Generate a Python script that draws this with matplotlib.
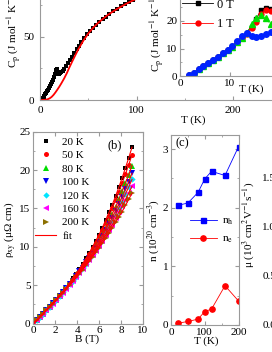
import matplotlib
matplotlib.use("Agg")
import matplotlib.pyplot as plt
from matplotlib.ticker import MultipleLocator

plt.rcParams["font.family"] = ["Liberation Serif", "DejaVu Serif"]
plt.rcParams["mathtext.fontset"] = "stix"
plt.rcParams["font.size"] = 8

GRAY = "#9a9a9a"
W, H = 272, 352

# (a) main: specific heat, zero field
T_inset = [1.8, 2.7, 3.7, 4.6, 5.6, 6.6, 7.5, 8.5, 9.5, 10.4, 11.4, 12.3, 13.3,
           14.3, 15.2, 16.2, 17.1, 18.1, 19.0, 20.0]
C_0T = [0.4, 1.2, 2.4, 3.5, 4.6, 5.8, 7.0, 8.2, 9.4, 10.8, 12.4, 13.9, 15.8,
        18.0, 20.6, 24.0, 24.8, 24.4, 21.3, 20.8]
C_1T = [0.4, 1.2, 2.4, 3.5, 4.6, 5.8, 7.0, 8.2, 9.4, 10.7, 12.3, 13.7, 15.4,
        17.4, 19.8, 22.6, 23.9, 23.6, 22.0, 20.6]
C_2T = [0.4, 1.2, 2.4, 3.5, 4.6, 5.8, 7.0, 8.2, 9.4, 10.7, 12.2, 13.9, 15.8,
        18.8, 21.0, 22.3, 21.2, 18.8, 18.3, 18.6]
C_3T = [0.4, 1.2, 2.4, 3.5, 4.6, 5.8, 7.0, 8.2, 9.4, 10.8, 12.7, 14.7, 15.6,
        14.6, 14.2, 14.5, 15.4, 16.0, 16.6, 17.2]

T_high = [21, 22, 23.5, 25, 27, 29, 31, 33, 35.5, 38, 40.5, 43, 46, 49, 52, 55,
          58, 61.5, 65, 68.5, 72, 76, 80, 84, 88, 92, 96, 100, 105, 110]
C_high = [21.2, 21.8, 22.9, 24.2, 26.5, 29.0, 31.5, 34.0, 37.0, 40.0, 42.8, 45.6,
          48.8, 52.0, 54.6, 57.0, 59.2, 61.6, 63.8, 65.9, 68.0, 70.2, 72.2, 74.0,
          75.8, 77.4, 79.0, 80.4, 82.0, 83.5]

T_fit = [0, 5, 8, 10, 12, 14, 16, 18, 20, 22, 25, 28, 30, 33, 36, 40, 45, 50, 55,
         60, 65, 70, 75, 80, 90, 100, 110, 120]
C_fit = [0, 0.1, 0.6, 1.3, 2.4, 4.0, 6.0, 8.2, 10.5, 13.0, 17.0, 21.5, 25.0, 29.8,
         34.5, 40.5, 47.0, 52.5, 57.0, 60.8, 64.0, 67.0, 69.6, 72.0, 76.3, 80.0,
         83.0, 85.5]

# (b) Hall resistivity
B = [0, 0.3, 0.6, 0.9, 1.2, 1.5, 1.8, 2.1, 2.4, 2.7, 3.0, 3.3, 3.6, 3.9, 4.2, 4.5,
     4.8, 5.1, 5.4, 5.7, 6.0, 6.3, 6.6, 6.9, 7.2, 7.5, 7.8, 8.1, 8.4, 8.7, 9.0]
rho_20 = [0, 0.4, 0.9, 1.3, 1.8, 2.2, 2.7, 3.2, 3.7, 4.2, 4.7, 5.3, 5.9, 6.5, 7.1,
          7.8, 8.5, 9.2, 10.0, 10.8, 11.6, 12.5, 13.5, 14.5, 15.5, 16.6, 17.8,
          19.0, 20.3, 21.6, 23.0]
rho_50 = [0, 0.4, 0.9, 1.3, 1.8, 2.2, 2.7, 3.2, 3.7, 4.2, 4.7, 5.2, 5.8, 6.4, 7.0,
          7.6, 8.3, 9.0, 9.8, 10.5, 11.4, 12.2, 13.1, 14.0, 15.0, 16.1, 17.1,
          18.3, 19.5, 20.7, 22.0]
rho_80 = [0, 0.4, 0.9, 1.3, 1.8, 2.2, 2.7, 3.1, 3.6, 4.1, 4.6, 5.2, 5.7, 6.3, 6.9,
          7.5, 8.1, 8.8, 9.5, 10.2, 10.9, 11.7, 12.5, 13.4, 14.3, 15.2, 16.2,
          17.3, 18.3, 19.4, 20.6]
rho_100 = [0, 0.4, 0.9, 1.3, 1.8, 2.2, 2.7, 3.1, 3.6, 4.1, 4.6, 5.1, 5.6, 6.2, 6.8,
           7.3, 8.0, 8.6, 9.2, 9.9, 10.6, 11.4, 12.2, 13.0, 13.8, 14.7, 15.6,
           16.5, 17.5, 18.5, 19.6]
rho_120 = [0, 0.4, 0.9, 1.3, 1.8, 2.2, 2.7, 3.1, 3.6, 4.1, 4.6, 5.1, 5.6, 6.1, 6.7,
           7.2, 7.8, 8.4, 9.1, 9.7, 10.4, 11.1, 11.8, 12.6, 13.4, 14.2, 15.1,
           15.9, 16.9, 17.8, 18.8]
rho_160 = [0, 0.4, 0.9, 1.3, 1.8, 2.2, 2.6, 3.1, 3.6, 4.0, 4.5, 5.0, 5.5, 6.0, 6.6,
           7.1, 7.7, 8.3, 8.9, 9.5, 10.1, 10.8, 11.5, 12.2, 12.9, 13.7, 14.5,
           15.3, 16.1, 17.0, 17.9]
rho_200 = [0, 0.4, 0.9, 1.3, 1.7, 2.2, 2.6, 3.1, 3.6, 4.0, 4.5, 5.0, 5.5, 6.0, 6.5,
           7.0, 7.6, 8.1, 8.7, 9.3, 9.9, 10.5, 11.1, 11.8, 12.5, 13.2, 13.9,
           14.6, 15.4, 16.2, 17.0]
labels_b = ["20 K", "50 K", "80 K", "100 K", "120 K", "160 K", "200 K"]

# (c) carrier densities
T_c = [20, 50, 80, 100, 120, 160, 200]
n_h = [2.04, 2.08, 2.26, 2.49, 2.62, 2.55, 3.04]
n_e = [0.03, 0.06, 0.10, 0.23, 0.27, 0.67, 0.41]


def box(x0, y0, x1, y1):
    return [x0 / W, 1 - y1 / H, (x1 - x0) / W, (y1 - y0) / H]


def style(ax, pad=2):
    for s in ax.spines.values():
        s.set_color(GRAY)
        s.set_linewidth(0.8)
    ax.tick_params(which="both", direction="in", color=GRAY, top=True,
                   right=True, pad=pad, labelsize=8)
    ax.tick_params(which="major", length=3)
    ax.tick_params(which="minor", length=1.5)


def ftext(x, y, s, **kw):
    fig.text(x / W, 1 - y / H, s, **kw)


fig = plt.figure(figsize=(W / 100, H / 100), dpi=100)

# ---- (a) main
ax_a = fig.add_axes(box(40, 100 - 115 * 1.266, 40 + 320 * 0.965, 100))
ax_a.plot(T_inset + T_high, C_0T + C_high, "s", color="black", ms=3, mew=0)
ax_a.plot(T_fit, C_fit, "-", color="red", lw=1.3)
ax_a.set_xlim(0, 320)
ax_a.set_ylim(0, 115)
ax_a.xaxis.set_major_locator(MultipleLocator(100))
ax_a.xaxis.set_minor_locator(MultipleLocator(50))
ax_a.yaxis.set_major_locator(MultipleLocator(50))
ax_a.yaxis.set_minor_locator(MultipleLocator(25))
style(ax_a, pad=4)
ftext(193, 120, "T (K)", ha="center", va="center")
ftext(14, 68, r"C$_{\rm p}$ (J mol$^{-1}$ K$^{-1}$)", rotation=90,
      ha="center", va="bottom")

# ---- (a) inset
ax_in = fig.add_axes(box(180, 76 - 82.5, 180 + 145, 76))
ax_in.plot(T_inset, C_0T, "-s", color="black", ms=3.2, lw=0.6, label="0 T")
ax_in.plot(T_inset, C_1T, "-o", color="red", ms=3.5, lw=0.6, label="1 T")
ax_in.plot(T_inset, C_2T, ":^", color="#00dd00", ms=3.8, lw=0.6)
ax_in.plot(T_inset, C_3T, ":o", color="#0022ff", ms=4, lw=0.6)
ax_in.set_xlim(0, 29)
ax_in.set_ylim(0, 30)
ax_in.xaxis.set_major_locator(MultipleLocator(10))
ax_in.yaxis.set_major_locator(MultipleLocator(10))
ax_in.yaxis.set_minor_locator(MultipleLocator(5))
style(ax_in, pad=2)
ax_in.legend(loc="lower left", bbox_to_anchor=(182 / W, 1 - 30 / H),
             bbox_transform=fig.transFigure, frameon=False, borderpad=0,
             borderaxespad=0, handlelength=2.5, handletextpad=0.3,
             labelspacing=0.6, fontsize=9)
ftext(251, 89, "T (K)", ha="center", va="center")
ftext(157, 72, r"C$_{\rm p}$ (J mol$^{-1}$ K$^{-1}$)", rotation=90,
      ha="center", va="bottom")

# ---- (b)
ax_b = fig.add_axes(box(33.3, 131.8, 143, 323.5))
markers = ["s", "o", "^", "v", "D", "<", ">"]
colors = ["black", "red", "#00dd00", "#0000ee", "#00e5ff", "#ff00ff", "#8c7000"]
sizes = [3.2, 3.6, 3.8, 3.8, 3.2, 3.8, 3.8]
series = [rho_20, rho_50, rho_80, rho_100, rho_120, rho_160, rho_200]
handles = []
for rho, m, c, s, lab in zip(series, markers, colors, sizes, labels_b):
    h, = ax_b.plot(B, rho, m, color=c, ms=s, mew=0, label=lab, ls="none")
    handles.append(h)
for rho in series:
    fit_line, = ax_b.plot(B, rho, "-", color="red", lw=0.8, label="fit")
handles.append(fit_line)
ax_b.set_xlim(0, 10)
ax_b.set_ylim(0, 25)
ax_b.xaxis.set_major_locator(MultipleLocator(2))
ax_b.yaxis.set_major_locator(MultipleLocator(5))
ax_b.yaxis.set_minor_locator(MultipleLocator(2.5))
style(ax_b, pad=2)
ax_b.legend(handles=handles, loc="upper left",
            bbox_to_anchor=(35 / W, 1 - 137 / H),
            bbox_transform=fig.transFigure, frameon=False, borderpad=0,
            borderaxespad=0, handlelength=1.9, handletextpad=0.55,
            labelspacing=0.33, fontsize=8)
ftext(115, 145, "(b)", ha="center", va="center", fontsize=9)
ftext(87, 339, "B (T)", ha="center", va="center")
ftext(10, 230, r"ρ$_{\rm xy}$ (μΩ cm)", rotation=90, ha="center", va="center")

# ---- (c)
ax_c = fig.add_axes(box(171, 135, 238.5, 325))
ax_c.plot(T_c, n_h, "-s", color="#0000ff", ms=3.6, lw=0.6, label=r"n$_{\rm h}$")
ax_c.plot(T_c, n_e, "-o", color="#ff0000", ms=3.8, lw=0.6, label=r"n$_{\rm e}$")
ax_c.set_xlim(0, 200)
ax_c.set_ylim(0, 3.24)
ax_c.xaxis.set_major_locator(MultipleLocator(100))
ax_c.xaxis.set_minor_locator(MultipleLocator(50))
ax_c.yaxis.set_major_locator(MultipleLocator(1))
ax_c.yaxis.set_minor_locator(MultipleLocator(0.5))
style(ax_c, pad=2)
ax_c.legend(loc="lower left", bbox_to_anchor=(190 / W, 1 - 245 / H),
            bbox_transform=fig.transFigure, frameon=False, borderpad=0,
            borderaxespad=0, handlelength=2.4, handletextpad=0.45,
            labelspacing=0.6, fontsize=8)
ftext(182, 143, "(c)", ha="center", va="center", fontsize=9)
ftext(206, 341, "T (K)", ha="center", va="center")
ftext(154, 230, r"n (10$^{20}$ cm$^{-3}$)", rotation=90, ha="center",
      va="center")

# ---- (d) mobility axis, mostly outside the crop
ax_d = fig.add_axes(box(279, 132, 400, 325))
ax_d.set_xlim(0, 200)
ax_d.set_ylim(0, 1.96)
ax_d.yaxis.set_major_locator(MultipleLocator(0.5))
ax_d.yaxis.set_major_formatter(matplotlib.ticker.FormatStrFormatter("%.1f"))
style(ax_d, pad=2)
ftext(248, 225, r"μ (10$^3$ cm$^2$V$^{-1}$s$^{-1}$)", rotation=90,
      ha="center", va="center")

fig.savefig("out.png", dpi=100)
